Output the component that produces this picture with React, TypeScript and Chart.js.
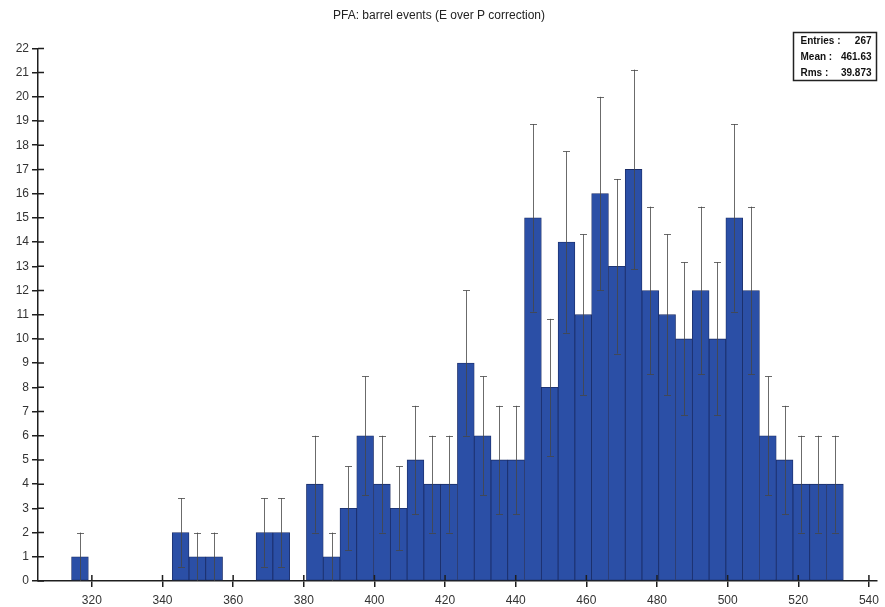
import React, { useEffect, useRef } from "react";
import { Chart, registerables } from "chart.js";

Chart.register(...registerables);

// Histogram binning (50 bins)
const BIN_START = 304.75;
const BIN_WIDTH = 4.75;
const BIN_COUNT = 50;

// Counts per bin, left to right
const binCounts = [
  0, 0, 1, 0, 0, 0, 0, 0, 2, 1,
  1, 0, 0, 2, 2, 0, 4, 1, 3, 6,
  4, 3, 5, 4, 4, 9, 6, 5, 5, 15,
  8, 14, 11, 16, 13, 17, 12, 11, 10, 12,
  10, 15, 12, 6, 5, 4, 4, 4, 0, 0,
];

const xTickValues = [320, 340, 360, 380, 400, 420, 440, 460, 480, 500, 520, 540];
const yTickValues = [0, 1, 2, 3, 4, 5, 6, 7, 8, 9, 10, 11, 12, 13, 14, 15, 16, 17, 18, 19, 20, 21, 22];

const TITLE = "PFA: barrel events (E over P correction)";
const statLabels = ["Entries :", "Mean :", "Rms :"];
const statMean = "461.63";
const statRms = "39.873";

const FONT = "'Liberation Sans', Arial, Helvetica, sans-serif";
const BAR_FILL = "#2b4fa6";
const BAR_EDGE = "#1a2c66";
const AXIS_COLOR = "#1e1e1e";

export default function App() {
  const canvasRef = useRef<HTMLCanvasElement | null>(null);

  useEffect(() => {
    document.body.style.margin = "0";
    const canvas = canvasRef.current;
    if (!canvas) return;

    const points = binCounts
      .map((n, i) => ({ x: BIN_START + (i + 0.5) * BIN_WIDTH, y: n }))
      .filter((p) => p.y > 0);

    const entries = binCounts.reduce((a, b) => a + b, 0);

    // Poisson error bars plus inner halves of the axis ticks
    const errorBars = {
      id: "errorBars",
      afterDatasetsDraw(chart: any) {
        const xs = chart.scales.x;
        const ys = chart.scales.y;
        const ctx = chart.ctx;
        ctx.save();
        ctx.strokeStyle = "rgba(70,70,70,0.8)";
        ctx.lineWidth = 1;
        for (const p of points) {
          const err = Math.sqrt(p.y);
          const px = Math.round(xs.getPixelForValue(p.x)) + 0.5;
          const top = ys.getPixelForValue(p.y + err);
          const bot = ys.getPixelForValue(Math.max(p.y - err, 0));
          ctx.beginPath();
          ctx.moveTo(px, top);
          ctx.lineTo(px, bot);
          ctx.moveTo(px - 3.5, Math.round(top) + 0.5);
          ctx.lineTo(px + 3.5, Math.round(top) + 0.5);
          if (p.y - err > 0) {
            ctx.moveTo(px - 3.5, Math.round(bot) + 0.5);
            ctx.lineTo(px + 3.5, Math.round(bot) + 0.5);
          }
          ctx.stroke();
        }
        ctx.restore();
      },
      afterDraw(chart: any) {
        const ctx = chart.ctx;
        const xs = chart.scales.x;
        const ys = chart.scales.y;
        const area = chart.chartArea;
        ctx.save();
        ctx.strokeStyle = AXIS_COLOR;
        ctx.lineWidth = 1.5;
        ctx.beginPath();
        xs.ticks.forEach((_t: any, i: number) => {
          const px = xs.getPixelForTick(i);
          ctx.moveTo(px, area.bottom);
          ctx.lineTo(px, area.bottom - 6);
        });
        ys.ticks.forEach((_t: any, i: number) => {
          const py = ys.getPixelForTick(i);
          ctx.moveTo(area.left, py);
          ctx.lineTo(area.left + 6, py);
        });
        ctx.stroke();

        // statistics box
        const bx = 793.5;
        const by = 32.5;
        const bw = 83;
        const bh = 48;
        ctx.fillStyle = "#ffffff";
        ctx.fillRect(bx, by, bw, bh);
        ctx.strokeStyle = "#222";
        ctx.lineWidth = 1.5;
        ctx.strokeRect(bx, by, bw, bh);
        ctx.fillStyle = "#111";
        ctx.font = `bold 10px ${FONT}`;
        ctx.textBaseline = "middle";
        const values = [String(entries), statMean, statRms];
        statLabels.forEach((label, i) => {
          const ty = by + 9 + i * 15.7;
          ctx.textAlign = "left";
          ctx.fillText(label, bx + 7, ty);
          ctx.textAlign = "right";
          ctx.fillText(values[i], bx + bw - 5, ty);
        });
        ctx.restore();
      },
    };

    const chart = new Chart(canvas, {
      type: "bar",
      data: {
        datasets: [
          {
            data: points as any,
            backgroundColor: BAR_FILL,
            borderColor: BAR_EDGE,
            borderWidth: 0.8,
            borderSkipped: false,
            barPercentage: 1,
            categoryPercentage: 1,
          },
        ],
      },
      options: {
        responsive: false,
        animation: false,
        layout: { padding: { right: 7, left: 0, top: 0, bottom: 0 } },
        plugins: {
          legend: { display: false },
          tooltip: { enabled: false },
          title: {
            display: true,
            text: TITLE,
            color: "#222",
            font: { family: FONT, size: 12, weight: "normal" },
            padding: { top: 8, bottom: 26 },
          },
        },
        scales: {
          x: {
            type: "linear",
            offset: false,
            min: BIN_START,
            max: BIN_START + BIN_COUNT * BIN_WIDTH,
            afterBuildTicks(axis: any) {
              axis.ticks = xTickValues.map((v) => ({ value: v }));
            },
            afterFit(axis: any) {
              axis.height = 26;
            },
            grid: {
              display: true,
              offset: false,
              drawOnChartArea: false,
              drawTicks: true,
              tickLength: 6,
              color: AXIS_COLOR,
              lineWidth: 1.5,
            },
            border: { display: true, color: AXIS_COLOR, width: 1.5 },
            ticks: {
              color: "#333",
              font: { family: FONT, size: 12 },
              padding: 6,
              maxRotation: 0,
              autoSkip: false,
            },
          },
          y: {
            type: "linear",
            min: 0,
            max: 22,
            afterBuildTicks(axis: any) {
              axis.ticks = yTickValues.map((v) => ({ value: v }));
            },
            afterFit(axis: any) {
              axis.width = 38;
            },
            grid: {
              display: true,
              drawOnChartArea: false,
              drawTicks: true,
              tickLength: 6,
              color: AXIS_COLOR,
              lineWidth: 1.5,
            },
            border: { display: true, color: AXIS_COLOR, width: 1.5 },
            ticks: {
              color: "#333",
              font: { family: FONT, size: 12 },
              padding: 3,
              autoSkip: false,
            },
          },
        },
      },
      plugins: [errorBars],
    });

    return () => chart.destroy();
  }, []);

  return (
    <div style={{ width: 885, height: 607 }}>
      <canvas ref={canvasRef} width={885} height={607} style={{ display: "block" }} />
    </div>
  );
}
